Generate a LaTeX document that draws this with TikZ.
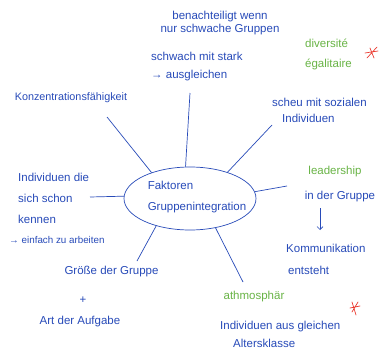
\documentclass[tikz,border=0pt]{standalone}
\usepackage{fontspec}
\setmainfont{Liberation Sans}
\usetikzlibrary{shapes.geometric,arrows.meta}
\definecolor{ink}{RGB}{40,75,185}
\definecolor{inkgreen}{RGB}{105,180,70}
\definecolor{inkred}{RGB}{235,60,50}
\begin{document}
\begin{tikzpicture}[x=1pt,y=-1pt,
  hw/.style={text=ink, inner sep=0pt, font=\fontsize{11.5}{13}\selectfont},
  hwg/.style={hw, text=inkgreen},
  conn/.style={draw=ink, line width=0.7pt},
  star/.style={draw=inkred, line width=0.7pt, line cap=round}]
\fill[white] (0,0) rectangle (381,356);
\useasboundingbox (0,0) rectangle (381,356);

% hub
\node[draw=ink, line width=0.7pt, ellipse, minimum width=132pt, minimum height=63pt, inner sep=0pt] (hub) at (190,198.5) {};
\node[hw, align=left, font=\fontsize{11.5}{21}\selectfont] (hubtext) at (197,197) {Faktoren\\Gruppenintegration};

% texts
\node[hw, align=center] (top1) at (220,23.5) {benachteiligt wenn\\nur schwache Gruppen};
\node[hw, align=left, anchor=west, font=\fontsize{11.5}{18}\selectfont] (top2) at (151,67) {schwach mit stark\\→ ausgleichen};
\node[hwg, align=left, anchor=west, font=\fontsize{11.5}{20}\selectfont] (div) at (305,54) {diversité\\égalitaire};
\node[hw, font=\fontsize{10.8}{13}\selectfont] (konz) at (71,98) {Konzentrationsfähigkeit};
\node[hw, align=left, anchor=west, font=\fontsize{11.5}{16}\selectfont] (scheu) at (272,110) {scheu mit sozialen\\\hspace*{10pt}Individuen};
\node[hw, align=left, anchor=west, font=\fontsize{11.5}{21}\selectfont] (indiv) at (18,198) {Individuen die\\sich schon\\kennen};
\node[hw, anchor=west, font=\fontsize{9.8}{11}\selectfont] (einf) at (9,240) {→ einfach zu arbeiten};
\node[hwg] (lead) at (335,172) {leadership};
\node[hw] (ingr) at (340,197) {in der Gruppe};
\node[hw, align=left, anchor=west, font=\fontsize{11.5}{22}\selectfont] (komm) at (286,259) {Kommunikation\\\hspace*{2pt}entsteht};
\node[hw] (groesse) at (111.5,272) {Größe der Gruppe};
\node[hw] (plus) at (83,300) {+};
\node[hw] (art) at (80,322) {Art der Aufgabe};
\node[hwg] (atm) at (254,297) {athmosphär};
\node[hw, align=left, anchor=west, font=\fontsize{11.5}{18}\selectfont] (alt) at (220,334) {Individuen aus gleichen\\\hspace*{13pt}Altersklasse};

% connector ends
\coordinate (c1) at (190,93);
\coordinate (c2) at (107,117);
\coordinate (c3) at (272,125);
\coordinate (c4) at (90,197);
\coordinate (c5) at (287,186);
\coordinate (c6) at (137,261);
\coordinate (c7) at (243,282);
\draw[conn] (hub.98) -- (c1);
\draw[conn] (hub.146) -- (c2);
\draw[conn] (hub.35) -- (c3);
\draw[conn] (hub.178) -- (c4);
\draw[conn] (hub.6) -- (c5);
\draw[conn] (hub.219) -- (c6);
\draw[conn] (hub.311) -- (c7);

% arrow leadership -> Kommunikation
\coordinate (a1) at (320,208);
\coordinate (a2) at (320,230);
\draw[conn, -{Straight Barb[length=3pt,width=6pt]}] (a1) -- (a2);

% red asterisks
\draw[star] (365,53) -- (378,51) (367,58) -- (377,47) (370,48) -- (374,58);
\draw[star] (350,308) -- (360,306) (352,302) -- (356,315) (358,302) -- (352,312);
\end{tikzpicture}
\end{document}
